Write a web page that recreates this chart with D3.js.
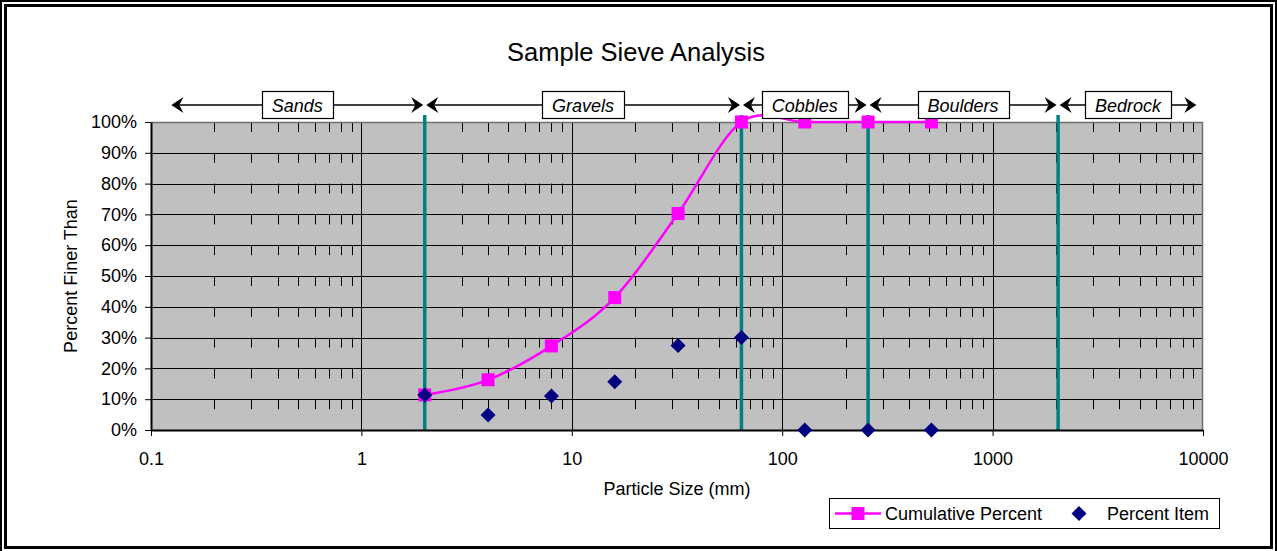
<!DOCTYPE html>
<html>
<head>
<meta charset="utf-8">
<script src="https://cdn.jsdelivr.net/npm/d3@7"></script>
<style>
  body { margin: 0; background: #fff; }
  svg { display: block; font-family: Arial, "Liberation Sans", sans-serif; }
</style>
</head>
<body>
<div id="chart"></div>
<script>
// sieve data
const sizes = [2, 4, 8, 16, 32, 64, 128, 256, 512];
const cumulative = [11.4, 16.3, 27.3, 43.0, 70.3, 100, 100, 100, 100];
const percentItem = [11.4, 4.9, 11.0, 15.7, 27.4, 30.0, 0, 0, 0];
// class boundaries (mm) drawn as teal lines
const boundaries = [2, 64, 256, 2048];
// size classes shown with arrows above the plot
const zoneNames = ["Sands", "Gravels", "Cobbles", "Boulders", "Bedrock"];
const zoneFrom = [0.125, 2, 64, 256, 2048];
const zoneTo = [2, 64, 256, 2048, 9300];
// axes
const xTicks = [0.1, 1, 10, 100, 1000, 10000];
const yTicks = [0, 10, 20, 30, 40, 50, 60, 70, 80, 90, 100];

const W = 1277, H = 551;
const plotL = 151, plotR = 1203, plotT = 122, plotB = 430;

const x = d3.scaleLog().domain([0.1, 10000]).range([plotL, plotR]);
const y = d3.scaleLinear().domain([0, 100]).range([plotB, plotT]);

const svg = d3.select("#chart").append("svg")
    .attr("width", W)
    .attr("height", H);

svg.append("rect").attr("width", W).attr("height", H).attr("fill", "#fff");

// double frame like the excel chart area with shadow
svg.append("path")
    .attr("d", "M1,551 V1 H1276 V551")
    .attr("fill", "none").attr("stroke", "#000").attr("stroke-width", 2);
svg.append("rect")
    .attr("x", 5.5).attr("y", 5.5)
    .attr("width", 1266).attr("height", 542)
    .attr("fill", "none").attr("stroke", "#000").attr("stroke-width", 3);

// plot area
svg.append("rect")
    .attr("x", plotL).attr("y", plotT)
    .attr("width", plotR - plotL).attr("height", plotB - plotT)
    .attr("fill", "#c0c0c0");

// minor vertical gridlines (dashed)
const minor = x.ticks().filter(d => !xTicks.includes(d));
svg.append("g").selectAll("line")
    .data(minor)
    .join("line")
    .attr("x1", d => Math.round(x(d)) + 0.5).attr("x2", d => Math.round(x(d)) + 0.5)
    .attr("y1", plotT).attr("y2", plotB)
    .attr("stroke", "#000").attr("stroke-width", 1)
    .attr("stroke-dasharray", "10,20.8");

// major vertical gridlines
svg.append("g").selectAll("line")
    .data(xTicks.slice(1, -1))
    .join("line")
    .attr("x1", d => Math.round(x(d)) + 0.5).attr("x2", d => Math.round(x(d)) + 0.5)
    .attr("y1", plotT).attr("y2", plotB)
    .attr("stroke", "#000").attr("stroke-width", 1);

// horizontal gridlines
svg.append("g").selectAll("line")
    .data(yTicks.slice(1))
    .join("line")
    .attr("x1", plotL).attr("x2", plotR)
    .attr("y1", d => Math.round(y(d)) + 0.5).attr("y2", d => Math.round(y(d)) + 0.5)
    .attr("stroke", "#000").attr("stroke-width", 1);

// plot border top / right
svg.append("path")
    .attr("d", `M${plotL},${plotT + 0.5} H${plotR - 0.5} V${plotB}`)
    .attr("fill", "none").attr("stroke", "#707070").attr("stroke-width", 1.5);

// teal class boundaries
svg.append("g").selectAll("line")
    .data(boundaries)
    .join("line")
    .attr("x1", d => x(d)).attr("x2", d => x(d))
    .attr("y1", 115).attr("y2", plotB)
    .attr("stroke", "#008080").attr("stroke-width", 3.5);

// axes
const yAxis = svg.append("g")
    .attr("transform", `translate(${plotL},0)`)
    .call(d3.axisLeft(y).tickValues(yTicks).tickSize(6).tickPadding(8).tickSizeOuter(0)
        .tickFormat(d => d + "%"));
const xAxis = svg.append("g")
    .attr("transform", `translate(0,${plotB})`)
    .call(d3.axisBottom(x).tickValues(xTicks).tickSize(6).tickPadding(16).tickSizeOuter(0)
        .tickFormat(d => String(d)));
[yAxis, xAxis].forEach(g => {
    g.select(".domain").attr("stroke", "#000").attr("stroke-width", 2);
    g.selectAll(".tick line").attr("stroke", "#000").attr("stroke-width", 1);
    g.selectAll("text").attr("font-size", 18).attr("fill", "#000")
        .attr("font-family", "Arial, 'Liberation Sans', sans-serif");
});

// cumulative curve
const line = d3.line()
    .x(d => x(d[0]))
    .y(d => y(d[1]))
    .curve(d3.curveCatmullRom.alpha(0));
svg.append("path")
    .datum(sizes.map((s, i) => [s, cumulative[i]]))
    .attr("d", line)
    .attr("fill", "none").attr("stroke", "#ff00ff").attr("stroke-width", 2.5);

svg.append("g").selectAll("rect")
    .data(sizes.map((s, i) => [s, cumulative[i]]))
    .join("rect")
    .attr("x", d => x(d[0]) - 6.5).attr("y", d => y(d[1]) - 6.5)
    .attr("width", 13).attr("height", 13)
    .attr("fill", "#ff00ff");

const diamond = "M0,-7.5 L7.5,0 L0,7.5 L-7.5,0 Z";
svg.append("g").selectAll("path")
    .data(sizes.map((s, i) => [s, percentItem[i]]))
    .join("path")
    .attr("transform", d => `translate(${x(d[0])},${y(d[1])})`)
    .attr("d", diamond)
    .attr("fill", "#000080");

// class arrows with labels
const arrowY = 105;
const headR = "M0,0 L-12,-8 L-8,0 L-12,8 Z";
const headL = "M0,0 L12,-8 L8,0 L12,8 Z";
const zones = svg.append("g");
zoneNames.forEach((name, i) => {
    const x0 = x(zoneFrom[i]) + (i === 0 ? 0 : 1.5);
    const x1 = x(zoneTo[i]) - (i === zoneNames.length - 1 ? 0 : 1.5);
    const g = zones.append("g");
    g.append("line")
        .attr("x1", x0 + 8).attr("x2", x1 - 8)
        .attr("y1", arrowY).attr("y2", arrowY)
        .attr("stroke", "#000").attr("stroke-width", 1.5);
    g.append("path").attr("transform", `translate(${x0},${arrowY})`).attr("d", headL).attr("fill", "#000");
    g.append("path").attr("transform", `translate(${x1},${arrowY})`).attr("d", headR).attr("fill", "#000");
    const cx = (x0 + x1) / 2;
    const box = g.append("rect");
    const t = g.append("text")
        .attr("x", cx).attr("y", arrowY + 6.5)
        .attr("text-anchor", "middle")
        .attr("font-size", 18).attr("font-style", "italic")
        .text(name);
    const w = t.node().getComputedTextLength() + 20;
    box.attr("x", Math.round(cx - w / 2) + 0.5).attr("y", 91.5)
        .attr("width", Math.round(w)).attr("height", 27)
        .attr("fill", "#fff").attr("stroke", "#000").attr("stroke-width", 1.2);
});

// titles
svg.append("text")
    .attr("x", 636).attr("y", 61)
    .attr("text-anchor", "middle").attr("font-size", 25.5)
    .text("Sample Sieve Analysis");
svg.append("text")
    .attr("x", 677).attr("y", 495)
    .attr("text-anchor", "middle").attr("font-size", 18)
    .text("Particle Size (mm)");
svg.append("text")
    .attr("transform", "translate(77,276) rotate(-90)")
    .attr("text-anchor", "middle").attr("font-size", 18)
    .text("Percent Finer Than");

// legend
const lg = svg.append("g");
lg.append("rect")
    .attr("x", 829.5).attr("y", 498.5).attr("width", 390).attr("height", 30)
    .attr("fill", "#fff").attr("stroke", "#000").attr("stroke-width", 1);
lg.append("line")
    .attr("x1", 835).attr("x2", 881).attr("y1", 513.5).attr("y2", 513.5)
    .attr("stroke", "#ff00ff").attr("stroke-width", 2.5);
lg.append("rect")
    .attr("x", 851.5).attr("y", 507).attr("width", 13).attr("height", 13)
    .attr("fill", "#ff00ff");
lg.append("text").attr("x", 885).attr("y", 520).attr("font-size", 18).text("Cumulative Percent");
lg.append("path").attr("transform", "translate(1079,513.5)").attr("d", diamond).attr("fill", "#000080");
lg.append("text").attr("x", 1107).attr("y", 520).attr("font-size", 18).text("Percent Item");
</script>
</body>
</html>
